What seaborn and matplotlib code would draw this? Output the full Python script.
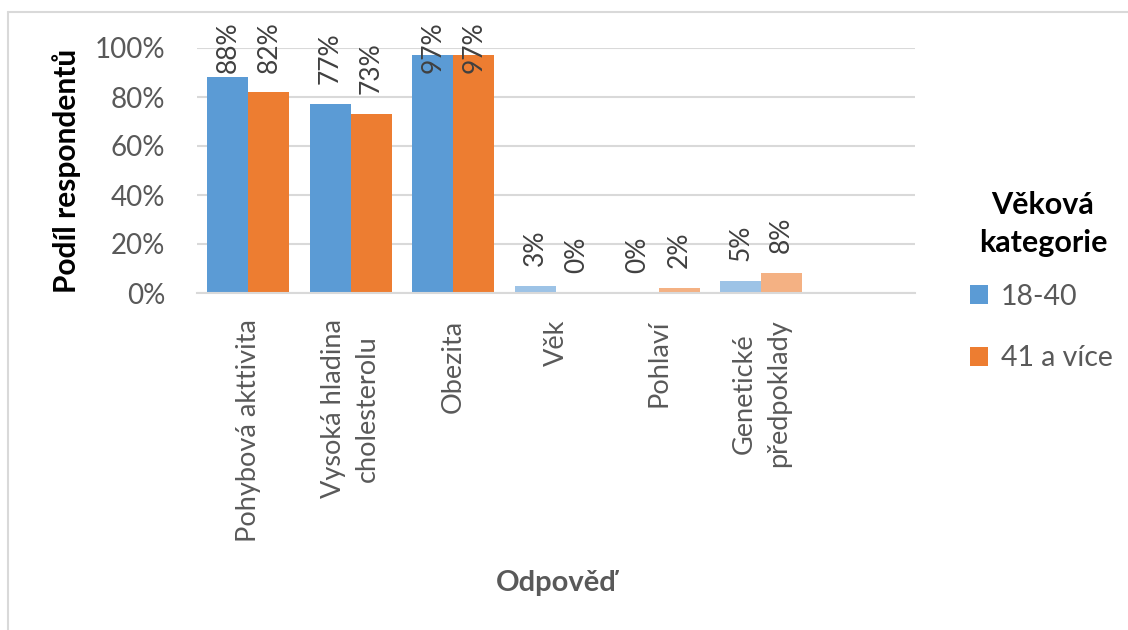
import matplotlib
matplotlib.use("Agg")
import matplotlib.pyplot as plt
from matplotlib.lines import Line2D
from matplotlib.patches import Patch
import seaborn as sns
import pandas as pd

categories = ["Pohybová akttivita", "Vysoká hladina\ncholesterolu", "Obezita", "Věk", "Pohlaví",
              "Genetické\npředpoklady"]
extra_slot = [" "]
groups = ["18-40", "41 a více"]
values_18_40 = [0.88, 0.77, 0.97, 0.03, 0.00, 0.05]
values_41 = [0.82, 0.73, 0.97, 0.00, 0.02, 0.08]
y_ticks = [0, 0.2, 0.4, 0.6, 0.8, 1.0]
y_tick_labels = ["0%", "20%", "40%", "60%", "80%", "100%"]

df = pd.DataFrame({
    "Odpověď": categories * 2,
    "Skupina": [groups[0]] * len(categories) + [groups[1]] * len(categories),
    "Podíl": values_18_40 + values_41,
})

sns.set_theme(style="white")
plt.rcParams["font.family"] = ["Lato", "DejaVu Sans"]

W, H = 1128, 630
fig = plt.figure(figsize=(W / 100, H / 100), dpi=100)
ax = fig.add_axes([197 / W, 1 - 293 / H, (915 - 197) / W, (293 - 48) / H])

base_colors = {groups[0]: "#5B9BD5", groups[1]: "#ED7D31"}
light_colors = {groups[0]: "#9DC3E6", groups[1]: "#F4B183"}
order = categories + extra_slot

sns.barplot(data=df, x="Odpověď", y="Podíl", hue="Skupina", order=order, hue_order=groups,
            palette=base_colors, width=0.8, ax=ax, legend=False, saturation=1, linewidth=0)

# lighter colours for the small categories
light_idx = {3, 4, 5}
for g, cont in zip(groups, ax.containers):
    for bar in cont:
        ci = int(round(bar.get_x() + bar.get_width() / 2))
        if ci in light_idx:
            bar.set_facecolor(light_colors[g])

# data labels
label_color = "#404040"
for g, vals, cont in zip(groups, [values_18_40, values_41], ax.containers):
    for bar in cont:
        ci = int(round(bar.get_x() + bar.get_width() / 2))
        if ci >= len(vals):
            continue
        v = vals[ci]
        ypos = min(v + 0.082, 0.898)
        ax.text(bar.get_x() + bar.get_width() / 2, ypos, f"{v * 100:.0f}%", rotation=90,
                ha="center", va="bottom", fontsize=19, color=label_color, clip_on=False)

ax.set_ylim(0, 1.0)
ax.set_xlim(-0.5, len(order) - 0.5)
ax.set_yticks(y_ticks)
ax.set_yticklabels(y_tick_labels, fontsize=20, color="#595959")
ax.set_xticks(range(len(order)))
ax.set_xticklabels(order, rotation=90, fontsize=19.5, color="#595959", va="top", ha="center",
                   multialignment="center", linespacing=1.45)
ax.tick_params(axis="both", length=0)
ax.tick_params(axis="x", pad=19)
ax.tick_params(axis="y", pad=23)
ax.yaxis.grid(True, color="#D9D9D9", linewidth=1.5)
ax.set_axisbelow(True)
for s in ["top", "right", "left"]:
    ax.spines[s].set_visible(False)
ax.spines["bottom"].set_color("#D9D9D9")
ax.spines["bottom"].set_linewidth(1.5)

ax.set_ylabel("Podíl respondentů", fontsize=21.5, fontweight="bold", color="black")
ax.yaxis.set_label_coords((81 - 197) / (915 - 197), 0.5)
ax.set_xlabel("Odpověď", fontsize=21, fontweight="bold", color="#595959")
ax.xaxis.set_label_coords(0.5, (293 - 583) / (293 - 48))
ax.xaxis.label.set_va("center")

# legend title
fig.text(1043 / W, 1 - 224 / H, "Věková\nkategorie", ha="center", va="center",
         multialignment="center", fontsize=22, fontweight="bold", color="black",
         linespacing=1.45)

handles = [Patch(facecolor=base_colors[g], edgecolor="none") for g in groups]
leg = fig.legend(handles, groups, loc="upper left", bbox_to_anchor=(944 / W, 1 - 258 / H),
                 frameon=False, fontsize=20.5,
                 handlelength=0.65, handleheight=0.65, handletextpad=0.45, labelspacing=1.25)
for t in leg.get_texts():
    t.set_color("#595959")

# chart border (top and left visible)
fig.add_artist(Line2D([8 / W, 1], [1 - 12 / H, 1 - 12 / H], color="#D9D9D9", linewidth=1.5,
                      transform=fig.transFigure))
fig.add_artist(Line2D([8 / W, 8 / W], [0, 1 - 12 / H], color="#D9D9D9", linewidth=1.5,
                      transform=fig.transFigure))

fig.savefig("out.png", dpi=100)
